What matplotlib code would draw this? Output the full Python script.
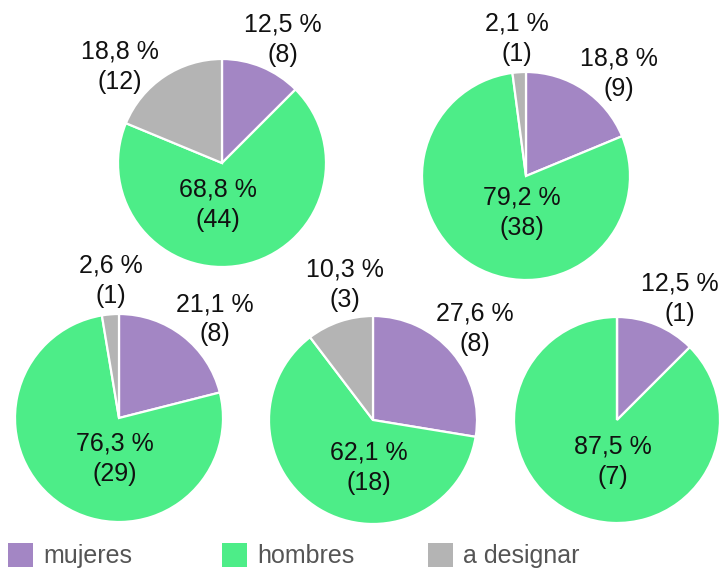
import numpy as np
import matplotlib
matplotlib.use("Agg")
import matplotlib.pyplot as plt
from matplotlib.patches import Rectangle

plt.rcParams['font.family'] = ['Liberation Sans', 'DejaVu Sans']

# ---- data ----
categories = ["mujeres", "hombres", "a designar"]
pie1 = [8, 44, 12]
pie2 = [9, 38, 1]
pie3 = [8, 29, 1]
pie4 = [8, 18, 3]
pie5 = [1, 7, 0]
all_pies = [pie1, pie2, pie3, pie4, pie5]

colors = ["#a386c4", "#4ded88", "#b4b4b4"]

# ---- layout (pixel space) ----
W, H = 722, 570
layout = [  # (cx, cy, r) in pixels from top-left
    (222, 163, 104),
    (526, 176, 104),
    (119, 418, 104),
    (373, 420, 104),
    (617, 420, 103),
]
# sideways nudge (px, clockwise-positive) of each outside label
label_nudge = [
    [9, 0, -32],
    [21, 0, 0],
    [16, 0, 3],
    [-3, 0, 16],
    [12, 0, 0],
]
# drop (px) of the inside label below the centre
inner_drop = [43, 38, 42, 49, 43]
OUT_DIST = 1.31

fig = plt.figure(figsize=(W / 100, H / 100), dpi=100)
ax = fig.add_axes([0, 0, 1, 1])


def fmt(v, tot):
    return f"{v / tot * 100:.1f}".replace(".", ",") + " %\n(" + str(v) + ")"


for k, (vals, (cx, cy, r)) in enumerate(zip(all_pies, layout)):
    cyd = H - cy
    ax.pie(vals, colors=colors, startangle=90, counterclock=False,
           center=(cx, cyd), radius=r,
           wedgeprops=dict(edgecolor="white", linewidth=1.6))
    tot = sum(vals)
    big = int(np.argmax(vals))
    start = 0.0  # clockwise degrees from 12 o'clock
    for i, v in enumerate(vals):
        span = v / tot * 360
        mid = np.radians(start + span / 2)
        start += span
        if v == 0:
            continue
        if i == big:
            x, y = cx - 4, cyd - inner_drop[k]
        else:
            d = OUT_DIST * r
            ux, uy = np.sin(mid), np.cos(mid)          # outward (data coords, y up)
            px, py = np.cos(mid), -np.sin(mid)         # clockwise perpendicular
            n = label_nudge[k][i]
            x = cx + d * ux + n * px
            y = cyd + d * uy + n * py
        ax.text(x, y + 1, fmt(v, tot), ha="center", va="center",
                fontsize=18, color="#111111", linespacing=1.33)

# legend
leg_x = [8, 222, 428]
for c, lab, lx in zip(colors, categories, leg_x):
    ax.add_patch(Rectangle((lx, H - 567), 25, 24, facecolor=c, edgecolor="none"))
    ax.text(lx + 35, H - 563, lab, ha="left", va="baseline", fontsize=18,
            color="#555555")

ax.set_xlim(0, W)
ax.set_ylim(0, H)
ax.set_aspect("equal")
ax.axis("off")
fig.savefig("out.png", dpi=100)
